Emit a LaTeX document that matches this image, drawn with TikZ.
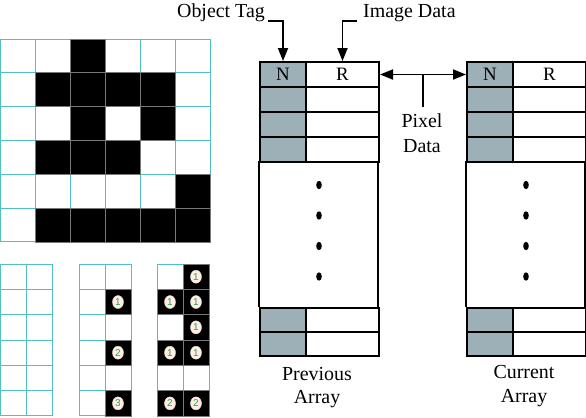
\documentclass[tikz,border=0pt]{standalone}
\usepackage{fontspec}
\setmainfont{Liberation Serif}
\newfontfamily\lblfont{Liberation Sans}
\usetikzlibrary{arrows.meta,shapes.geometric}
\definecolor{gridc}{RGB}{80,192,196}
\definecolor{tagc}{RGB}{158,176,183}
\definecolor{digc}{RGB}{30,170,60}
\definecolor{circc}{RGB}{255,238,230}
\definecolor{blkedge}{RGB}{120,120,120}
\begin{document}
\begin{tikzpicture}[x=1bp,y=-1bp,
  gline/.style={draw=gridc, line width=1bp},
  blk/.style={fill=black, draw=blkedge, line width=0.8bp},
  ncell/.style={draw=black, fill=tagc, line width=2bp, minimum width=46bp, minimum height=25bp, inner sep=0pt, anchor=north west, font=\fontsize{19}{20}\selectfont},
  rcell/.style={draw=black, fill=white, line width=2bp, minimum width=73bp, minimum height=25bp, inner sep=0pt, anchor=north west, font=\fontsize{19}{20}\selectfont},
  lbl/.style={font=\fontsize{20}{24}\selectfont, inner sep=0pt},
  arr/.style={line width=1.8bp, -{Triangle[length=13bp,width=10bp]}},
  darr/.style={line width=1.8bp, {Triangle[length=13bp,width=10bp]}-{Triangle[length=13bp,width=10bp]}},
  num/.style={ellipse, fill=circc, draw=red!15, line width=0.4bp, minimum width=11bp, minimum height=13bp, inner sep=0pt, text=digc, font=\lblfont\fontsize{10}{10}\selectfont}
]
\useasboundingbox (0,0) rectangle (586,417);

% ---- big grid ----
\foreach \i in {0,...,6} {
  \draw[gline] (0.5+35*\i,39) -- ++(0,203);
  \draw[gline] (0.5,39+33.83*\i) -- ++(210,0);
}
\foreach \r/\c in {0/2,1/1,1/2,1/3,1/4,2/2,2/4,3/1,3/2,3/3,4/5,5/1,5/2,5/3,5/4,5/5}
  \draw[blk] (0.5+35*\c,39+33.83*\r) rectangle ++(35,33.83);

% ---- small grids ----
\foreach \gx in {0.5,79,157} {
  \foreach \i in {0,1,2} \draw[gline] (\gx+26*\i,264) -- ++(0,152);
  \foreach \j in {0,...,6} \draw[gline] (\gx,264+25.33*\j) -- ++(52,0);
}
% grid 2
\foreach \c/\r/\t in {1/1/1,1/3/2,1/5/3} {
  \draw[blk] (79+26*\c,264+25.33*\r) rectangle ++(26,25.33);
  \node[num] (b-\c-\r) at (79+26*\c+13,264+25.33*\r+12.7) {\t};
}
% grid 3
\foreach \c/\r/\t in {1/0/1,0/1/1,1/1/1,1/2/1,0/3/1,1/3/1,0/5/2,1/5/2} {
  \draw[blk] (157+26*\c,264+25.33*\r) rectangle ++(26,25.33);
  \node[num] (c-\c-\r) at (157+26*\c+13,264+25.33*\r+12.7) {\t};
}

% ---- arrays ----
\foreach \L/\p in {259/p,466/c} {
  \node[ncell] (\p-N1) at (\L,61) {N};
  \node[rcell] (\p-R1) at (\L+46,61) {R};
  \foreach \k in {2,3,4} {
    \node[ncell] (\p-N\k) at (\L,61+25*\k-25) {};
    \node[rcell] (\p-R\k) at (\L+46,61+25*\k-25) {};
  }
  \draw[line width=2bp] (\L,161) -- (\L,307);
  \draw[line width=2bp] (\L+119,161) -- (\L+119,307);
  \foreach \yy in {185,215.5,246,276.5}
    \fill (\L+60,\yy) ellipse [x radius=2.8bp, y radius=4.2bp];
  \foreach \k/\yy in {5/307,6/331} {
    \node[ncell, minimum height=24bp] (\p-N\k) at (\L,\yy) {};
    \node[rcell, minimum height=24bp] (\p-R\k) at (\L+46,\yy) {};
  }
}

% ---- labels ----
\node[lbl, anchor=base east] (otag) at (265,17) {Object Tag};
\node[lbl, anchor=base west] (idata) at (363,17) {Image Data};
\coordinate (otc) at (268,21);
\coordinate (idc) at (357,21);
\draw[arr] (otc) -| (p-N1.north);
\draw[arr] (idc) -| (p-R1.north);

\draw[darr] (p-R1.east) -- (c-N1.west);
\path (p-R1.east) -- (c-N1.west) coordinate[midway] (pdm);
\node[lbl, anchor=base] (pix) at (422,127) {Pixel};
\node[lbl, anchor=base] (pdat) at (422,152) {Data};
\draw[line width=1.8bp] (pdm) -- ([yshift=6bp]pdm |- pix.north);

\node[lbl, anchor=base] (prev1) at (317,380) {Previous};
\node[lbl, anchor=base] (prev2) at (317,403) {Array};
\node[lbl, anchor=base] (cur1) at (524,378) {Current};
\node[lbl, anchor=base] (cur2) at (524,402) {Array};
\end{tikzpicture}
\end{document}
